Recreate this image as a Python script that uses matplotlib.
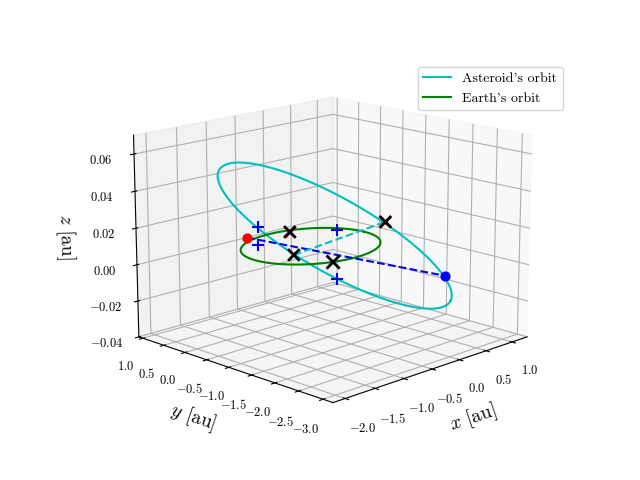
import numpy as np
import matplotlib
matplotlib.use("Agg")
import matplotlib.pyplot as plt

plt.rcParams["mathtext.fontset"] = "cm"
plt.rcParams["font.family"] = "serif"
plt.rcParams["font.serif"] = ["cmr10"]
plt.rcParams["axes.formatter.use_mathtext"] = True
plt.rcParams["axes.unicode_minus"] = True

# asteroid orbit: centre and semi-axis vectors (au)
ast_center = [-0.40, -1.0, 0.016]
ast_semi_major = [0.66, -1.72, -0.030]
ast_semi_minor = [0.52, 0.24, 0.012]
earth_radius = 1.0

red_pt = [-0.5, 0.85, 0.003]
blue_pt = [0.3, -2.55, -0.002]
plus_x = [-0.9, -0.9, 0.35, 0.35]
plus_y = [0.05, 0.05, -0.15, -0.15]
plus_z = [0.017, 0.0075, 0.007, -0.021]
black_x = [-0.15, 0.0, 0.0, 0.85]
black_y = [0.3, 0.4, -0.5, -0.65]
black_z = [0.007, -0.008, -0.006, 0.011]
black_s = [70, 70, 90, 70]
red_x_idx = [0, 3]

x_ticks = [-2.0, -1.5, -1.0, -0.5, 0.0, 0.5, 1.0]
y_ticks = [1.0, 0.5, 0.0, -0.5, -1.0, -1.5, -2.0, -2.5, -3.0]
z_ticks = [-0.04, -0.02, 0.00, 0.02, 0.04, 0.06]

fig = plt.figure(figsize=(6.4, 4.8), dpi=100)
ax = fig.add_subplot(111, projection="3d")

t = np.linspace(0, 2 * np.pi, 400)
c = np.array(ast_center); A = np.array(ast_semi_major); B = np.array(ast_semi_minor)
orb = c[:, None] + A[:, None] * np.cos(t) + B[:, None] * np.sin(t)
ax.plot(orb[0], orb[1], orb[2], color="c", label="Asteroid's orbit")
ax.plot(earth_radius * np.cos(t), earth_radius * np.sin(t), 0 * t, color="g", label="Earth's orbit")

ax.plot([red_pt[0], blue_pt[0]], [red_pt[1], blue_pt[1]], [red_pt[2], blue_pt[2]], "b--")
ax.plot([black_x[1], black_x[3]], [black_y[1], black_y[3]], [black_z[1], black_z[3]], "c--")
ax.scatter(*[[v] for v in red_pt], color="r", s=40, depthshade=False)
ax.scatter(*[[v] for v in blue_pt], color="b", s=40, depthshade=False)
ax.scatter(plus_x, plus_y, plus_z, marker="+", color="b", s=70, depthshade=False)
for i in red_x_idx:
    ax.scatter([black_x[i]], [black_y[i]], [black_z[i]], marker="x", color="r", s=60, depthshade=False)
ax.scatter(black_x, black_y, black_z, marker="x", color="k", s=black_s, linewidths=2, depthshade=False)

ax.set_xticks(x_ticks); ax.set_yticks(y_ticks); ax.set_zticks(z_ticks)
ax.tick_params(labelsize=9)
ax.set_xlim(-2.2, 1.3); ax.set_ylim(-3.2, 1.1); ax.set_zlim(-0.04, 0.07)
ax.set_xlabel(r"$x$ [au]", fontsize=14)
ax.set_ylabel(r"$y$ [au]", fontsize=14)
ax.set_zlabel(r"$z$ [au]", fontsize=14)
ax.view_init(elev=15, azim=-135)
ax.set_box_aspect((4, 4, 3), zoom=1.17)
ax.legend(loc="upper right", bbox_to_anchor=(0.89, 0.875), bbox_transform=fig.transFigure, fontsize=10)
fig.savefig("out.png", dpi=100)
